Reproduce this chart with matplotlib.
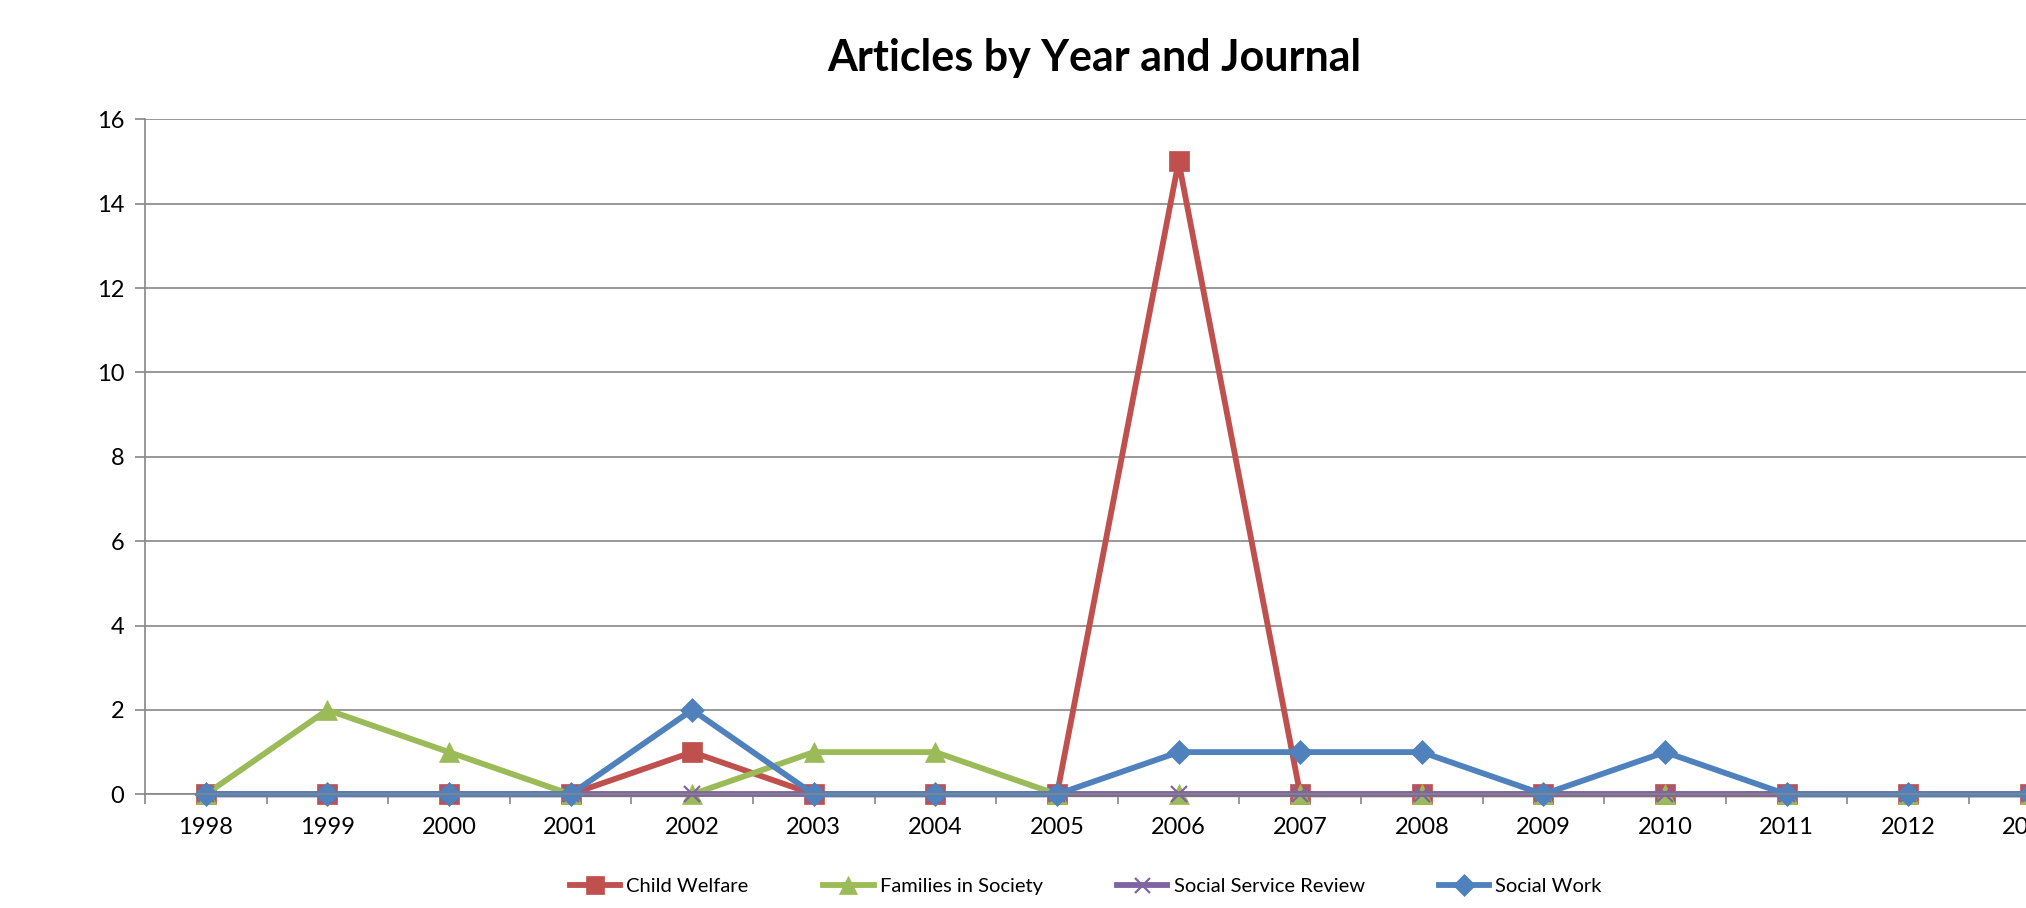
import matplotlib
matplotlib.use("Agg")
import matplotlib.pyplot as plt
import numpy as np

years = ["1998", "1999", "2000", "2001", "2002", "2003", "2004", "2005",
         "2006", "2007", "2008", "2009", "2010", "2011", "2012", "2013"]
child_welfare = [0, 0, 0, 0, 1, 0, 0, 0, 15, 0, 0, 0, 0, 0, 0, 0]
families_in_society = [0, 2, 1, 0, 0, 1, 1, 0, 0, 0, 0, 0, 0, 0, 0, 0]
social_service_review = [0, 0, 0, 0, 0, 0, 0, 0, 0, 0, 0, 0, 0, 0, 0, 0]
social_work = [0, 0, 0, 0, 2, 0, 0, 0, 1, 1, 1, 0, 1, 0, 0, 0]

plt.rcParams['font.family'] = ['Lato', 'DejaVu Sans']

fig = plt.figure(figsize=(20.26, 9.08), dpi=100)
W, H = 2026, 908
left = 145 / W
bottom = (H - 794.3) / H
top = (H - 119.3) / H
unit = 121.6
width = 16 * unit / W
ax = fig.add_axes([left, bottom, width, top - bottom])

x = np.arange(len(years))
series = [
    ("Child Welfare", child_welfare, "#C0504D", "s", 14),
    ("Families in Society", families_in_society, "#9BBB59", "^", 15),
    ("Social Service Review", social_service_review, "#8064A2", "x", 12),
    ("Social Work", social_work, "#4F81BD", "D", 12),
]
for name, vals, col, mk, ms in series:
    ax.plot(x, vals, color=col, lw=4.2, marker=mk, markersize=ms,
            markeredgewidth=1.6 if mk == "x" else 0.5, markeredgecolor=col,
            markerfacecolor=col, label=name, solid_joinstyle='round', clip_on=False)

ax.set_xlim(-0.5, 15.5)
ax.set_ylim(0, 16)
ax.set_yticks(range(0, 17, 2))
ax.set_xticks(x)
ax.set_xticklabels(years)
ax.set_xticks(np.arange(-0.5, 16, 1), minor=True)
ax.tick_params(axis='x', which='major', length=0, pad=16, labelsize=17)
ax.tick_params(axis='x', which='minor', length=7, color='#868686', width=1.2)
ax.tick_params(axis='y', length=7, color='#868686', width=1.2, labelsize=17, pad=8)
ax.yaxis.grid(True, color='#868686', lw=1.2)
ax.set_axisbelow(True)
for s in ['top', 'right']:
    ax.spines[s].set_visible(False)
for s in ['left', 'bottom']:
    ax.spines[s].set_color('#868686')
    ax.spines[s].set_linewidth(1.2)

fig.text(1094 / W, 1 - 58 / H, "Articles by Year and Journal", ha='center', va='center',
         fontsize=31, fontweight='bold')

handles, labels = ax.get_legend_handles_labels()
fig.legend(handles, labels, loc='center', bbox_to_anchor=(1086 / W, 1 - 886 / H),
           ncol=4, frameon=False, fontsize=14.5, handlelength=2.5, columnspacing=3.7,
           handletextpad=0.3, markerscale=0.9)

fig.savefig("out.png", dpi=100)
